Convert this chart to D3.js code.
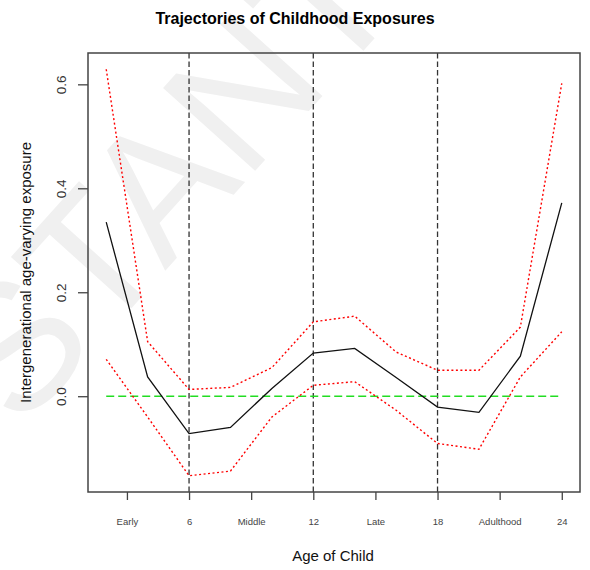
<!DOCTYPE html>
<html>
<head>
<meta charset="utf-8">
<script src="https://cdn.jsdelivr.net/npm/d3@7/dist/d3.min.js"></script>
<style>
  html, body { margin: 0; padding: 0; background: #fff; }
  svg { display: block; font-family: "Liberation Sans", Arial, sans-serif; }
</style>
</head>
<body>
<svg id="chart" width="590" height="570"></svg>
<script>
// ---- data ----
const ages      = [2, 4, 6, 8, 10, 12, 14, 16, 18, 20, 22, 24];
const estimate  = [0.335, 0.037, -0.072, -0.060, 0.015, 0.083, 0.092, 0.036, -0.021, -0.031, 0.077, 0.372];
const upperCI   = [0.629, 0.105, 0.013, 0.017, 0.055, 0.143, 0.154, 0.085, 0.050, 0.050, 0.133, 0.602];
const lowerCI   = [0.071, -0.040, -0.153, -0.144, -0.040, 0.021, 0.028, -0.027, -0.091, -0.102, 0.037, 0.124];
const xTickAges   = [3, 6, 9, 12, 15, 18, 21, 24];
const xTickLabels = ["Early", "6", "Middle", "12", "Late", "18", "Adulthood", "24"];
const yTicks      = [0.0, 0.2, 0.4, 0.6];
const periodBreaks = [6, 12, 18];
const refLevel = 0;
const title = "Trajectories of Childhood Exposures";
const xTitle = "Age of Child";
const yTitle = "Intergenerational age-varying exposure";
const watermark = "STANT";

// ---- layout ----
const svg = d3.select("#chart");
const plot = { left: 88, right: 580, top: 53, bottom: 492 };

// R-style 4% padded extents
function padded(ext) { const p = (ext[1] - ext[0]) * 0.04; return [ext[0] - p, ext[1] + p]; }
const xDom = padded(d3.extent(ages));
const yDom = padded(d3.extent(lowerCI.concat(upperCI, estimate)));
const x = d3.scaleLinear().domain(xDom).range([plot.left, plot.right]);
const y = d3.scaleLinear().domain(yDom).range([plot.bottom, plot.top]);

// watermark
svg.append("text")
  .attr("transform", "translate(20,432) rotate(-48)")
  .attr("font-size", 180)
  .attr("fill", "#f0f0f0")
  .text(watermark);

// title
svg.append("text")
  .attr("x", 295).attr("y", 24)
  .attr("text-anchor", "middle")
  .attr("font-size", 16).attr("font-weight", "bold")
  .attr("fill", "#000")
  .text(title);

// vertical period lines
svg.append("g").selectAll("line").data(periodBreaks).join("line")
  .attr("x1", d => x(d)).attr("x2", d => x(d))
  .attr("y1", plot.top).attr("y2", plot.bottom)
  .attr("stroke", "#333").attr("stroke-width", 1.3)
  .attr("stroke-dasharray", "5.5,3");

// reference line
svg.append("line")
  .attr("x1", x(ages[0])).attr("x2", x(ages[ages.length - 1]))
  .attr("y1", y(refLevel)).attr("y2", y(refLevel))
  .attr("stroke", "#22dd22").attr("stroke-width", 1.5)
  .attr("stroke-dasharray", "8,4");

const line = d3.line().x(d => x(d[0])).y(d => y(d[1]));
function series(vals, color, width, dash) {
  svg.append("path")
    .datum(ages.map((a, i) => [a, vals[i]]))
    .attr("d", line)
    .attr("fill", "none")
    .attr("stroke", color).attr("stroke-width", width)
    .attr("stroke-dasharray", dash);
}
series(upperCI, "#ff0000", 1.4, "2,2.5");
series(lowerCI, "#ff0000", 1.4, "2,2.5");
series(estimate, "#111", 1.3, null);

// box
svg.append("rect")
  .attr("x", plot.left).attr("y", plot.top)
  .attr("width", plot.right - plot.left).attr("height", plot.bottom - plot.top)
  .attr("fill", "none").attr("stroke", "#444").attr("stroke-width", 1.5);

// x axis
const xAxis = d3.axisBottom(x).tickValues(xTickAges)
  .tickFormat((d, i) => xTickLabels[i]).tickSize(8).tickPadding(18);
const gx = svg.append("g").attr("transform", `translate(0,${plot.bottom})`).call(xAxis);
gx.select(".domain").remove();
gx.selectAll(".tick line").attr("stroke", "#444").attr("stroke-width", 1.3);
gx.selectAll(".tick text").attr("font-size", 9.5).attr("fill", "#444")
  .attr("font-family", "Liberation Sans, Arial, sans-serif");

// y axis
const yAxis = d3.axisLeft(y).tickValues(yTicks).tickFormat(d3.format(".1f")).tickSize(10);
const gy = svg.append("g").attr("transform", `translate(${plot.left},0)`).call(yAxis);
gy.select(".domain").remove();
gy.selectAll(".tick line").attr("stroke", "#444").attr("stroke-width", 1.3);
gy.selectAll(".tick text")
  .attr("font-size", 13.5).attr("fill", "#333")
  .attr("font-family", "Liberation Sans, Arial, sans-serif")
  .attr("x", null).attr("dy", null)
  .attr("text-anchor", "middle")
  .attr("transform", "translate(-22,0) rotate(-90)");

// axis titles
svg.append("text")
  .attr("x", (plot.left + plot.right) / 2 - 1).attr("y", 561)
  .attr("text-anchor", "middle").attr("font-size", 15).attr("fill", "#111")
  .text(xTitle);
svg.append("text")
  .attr("transform", `translate(31,${(plot.top + plot.bottom) / 2}) rotate(-90)`)
  .attr("text-anchor", "middle").attr("font-size", 15).attr("fill", "#111")
  .text(yTitle);
</script>
</body>
</html>
